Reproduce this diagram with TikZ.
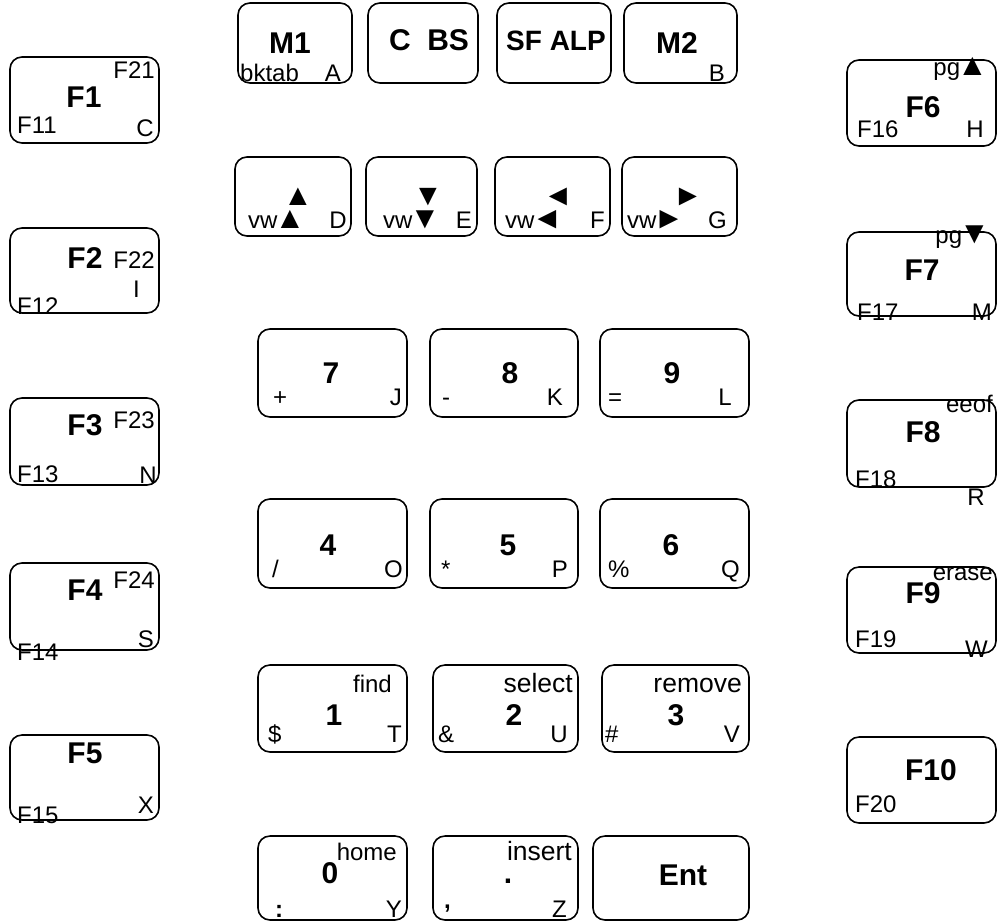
\documentclass[tikz,border=0pt]{standalone}
\usepackage{fontspec}
\setmainfont{Liberation Sans}
\newcommand\stri[1]{\hspace{-3pt}{\fontsize{31}{31}\selectfont #1}}
\begin{document}
\begin{tikzpicture}[x=1pt,y=-1pt,
  keyshape/.style={draw, rounded corners=12pt, line width=1.6pt, inner sep=0pt},
  mainlbl/.style={font=\fontsize{30}{30}\selectfont\bfseries, inner sep=0pt, anchor=base},
  smallbw/.style={font=\fontsize{24}{24}\selectfont, inner sep=0pt, anchor=base west},
  smallbe/.style={font=\fontsize{24}{24}\selectfont, inner sep=0pt, anchor=base east},
  trilbl/.style={text height=17pt, text depth=0pt},
  largebe/.style={font=\fontsize{26.5}{26.5}\selectfont, inner sep=0pt, anchor=base east},
  bigtri/.style={font=\fontsize{30}{30}\selectfont, inner sep=0pt, anchor=base, text depth=0pt, text height=22pt}]
\useasboundingbox (0,0) rectangle (1000,921);
\newcommand\keyb[5]{\node[keyshape, minimum width=#4pt, minimum height=#5pt] (#1) at (#2,#3) {};}
% top row
\keyb{kM1}{295}{43}{114}{80}
\keyb{kCBS}{423}{43}{110}{80}
\keyb{kSF}{554}{43}{114}{80}
\keyb{kM2}{680.5}{43}{113}{80}
\node[mainlbl] (tM1) at (290,53) {M1};
\node[smallbw] (tM1a) at (240,81) {bktab};
\node[smallbe] (tM1b) at (341,81) {A};
\node[mainlbl] (tCBS) at (429,50) {C\ \ BS};
\node[mainlbl, font=\fontsize{28}{28}\selectfont\bfseries] (tSF) at (556,50) {SF ALP};
\node[mainlbl] (tM2) at (677,53) {M2};
\node[smallbe] (tM2b) at (725,81) {B};
% arrow row
\keyb{kD}{293}{196.5}{116}{79}
\keyb{kE}{421.5}{196.5}{111}{79}
\keyb{kF}{552.5}{196.5}{115}{79}
\keyb{kG}{679.5}{196.5}{115}{79}
\node[bigtri] (tDt) at (298,205) {▲};
\node[smallbw, trilbl] (tDs) at (248,228) {vw\stri{▲}};
\node[smallbe] (tDe) at (347,228) {D};
\node[bigtri] (tEt) at (428,205) {▼};
\node[smallbw, trilbl] (tEs) at (383,228) {vw\stri{▼}};
\node[smallbe] (tEe) at (472,228) {E};
\node[bigtri] (tFt) at (558,205) {◄};
\node[smallbw, trilbl] (tFs) at (505,228) {vw\stri{◄}};
\node[smallbe] (tFe) at (605,228) {F};
\node[bigtri] (tGt) at (688,205) {►};
\node[smallbw, trilbl] (tGs) at (627,228) {vw\stri{►}};
\node[smallbe] (tGe) at (727,228) {G};
% numpad
\keyb{k7}{332.5}{373}{149}{88}
\keyb{k8}{504}{373}{148}{88}
\keyb{k9}{674.5}{373}{149}{88}
\keyb{k4}{332.5}{543.5}{149}{89}
\keyb{k5}{504}{543.5}{148}{89}
\keyb{k6}{674.5}{543.5}{149}{89}
\keyb{k1}{332.5}{708.5}{149}{87}
\keyb{k2}{505.5}{708.5}{145}{87}
\keyb{k3}{675.5}{708.5}{147}{87}
\keyb{k0}{332.5}{878}{149}{84}
\keyb{kdot}{505.5}{878}{145}{84}
\keyb{kEnt}{671}{878}{156}{84}
\node[mainlbl] (t7) at (331,383) {7};
\node[smallbw] (t7a) at (273,405) {+};
\node[smallbe] (t7b) at (402,405) {J};
\node[mainlbl] (t8) at (510,383) {8};
\node[smallbw] (t8a) at (442,405) {-};
\node[smallbe] (t8b) at (563,405) {K};
\node[mainlbl] (t9) at (672,383) {9};
\node[smallbw] (t9a) at (608,405) {=};
\node[smallbe] (t9b) at (732,405) {L};
\node[mainlbl] (t4) at (328,555) {4};
\node[smallbw] (t4a) at (272,577) {/};
\node[smallbe] (t4b) at (403,577) {O};
\node[mainlbl] (t5) at (508,555) {5};
\node[smallbw] (t5a) at (441,577) {*};
\node[smallbe] (t5b) at (568,577) {P};
\node[mainlbl] (t6) at (671,555) {6};
\node[smallbw] (t6a) at (608,577) {\%};
\node[smallbe] (t6b) at (740,577) {Q};
\node[mainlbl] (t1) at (334,725) {1};
\node[smallbe] (t1u) at (392,692) {find};
\node[smallbw] (t1a) at (268,742) {\$};
\node[smallbe] (t1b) at (402,742) {T};
\node[mainlbl] (t2) at (514,725) {2};
\node[largebe] (t2u) at (573,692) {select};
\node[smallbw] (t2a) at (438,742) {\&};
\node[smallbe] (t2b) at (568,742) {U};
\node[mainlbl] (t3) at (676,725) {3};
\node[largebe] (t3u) at (742,692) {remove};
\node[smallbw] (t3a) at (605,742) {\#};
\node[smallbe] (t3b) at (740,742) {V};
\node[mainlbl] (t0) at (330,883) {0};
\node[smallbe] (t0u) at (397,860) {home};
\node[smallbw, font=\fontsize{24}{24}\selectfont\bfseries] (t0a) at (275,917) {:};
\node[smallbe] (t0b) at (402,917) {Y};
\node[mainlbl] (tdot) at (508,883) {.};
\node[largebe] (tdotu) at (572,860) {insert};
\node[smallbw, font=\fontsize{24}{24}\selectfont\bfseries] (tdota) at (444,908) {,};
\node[smallbe] (tdotb) at (567,917) {Z};
\node[mainlbl] (tEnt) at (683,885) {Ent};
% left column
\keyb{kF1}{84.5}{100}{149}{86}
\keyb{kF2}{84.5}{270.5}{149}{85}
\keyb{kF3}{84.5}{441.5}{149}{87}
\keyb{kF4}{84.5}{606.5}{149}{87}
\keyb{kF5}{84.5}{777.5}{149}{85}
\node[mainlbl] (tF1) at (84,107) {F1};
\node[smallbe] (tF21) at (155,78) {F21};
\node[smallbw] (tF11) at (17,133) {F11};
\node[smallbe] (tC) at (154,136) {C};
\node[mainlbl] (tF2) at (85,268) {F2};
\node[smallbe] (tF22) at (155,268) {F22};
\node[smallbe] (tI) at (140,297) {I};
\node[smallbw] (tF12) at (17,314) {F12};
\node[mainlbl] (tF3) at (85,435) {F3};
\node[smallbe] (tF23) at (155,428) {F23};
\node[smallbw] (tF13) at (17,482) {F13};
\node[smallbe] (tN) at (157,483) {N};
\node[mainlbl] (tF4) at (85,600) {F4};
\node[smallbe] (tF24) at (155,588) {F24};
\node[smallbw] (tF14) at (17,660) {F14};
\node[smallbe] (tS) at (154,647) {S};
\node[mainlbl] (tF5) at (85,763) {F5};
\node[smallbe] (tX) at (154,813) {X};
\node[smallbw] (tF15) at (17,823) {F15};
% right column
\keyb{kF6}{921.5}{103}{149}{86}
\keyb{kF7}{921.5}{274}{149}{84}
\keyb{kF8}{921.5}{443.5}{149}{87}
\keyb{kF9}{921.5}{610}{149}{86}
\keyb{kF10}{921.5}{780}{149}{86}
\node[mainlbl] (tF6) at (923,117) {F6};
\node[smallbe, trilbl] (tpgu) at (988,75) {pg\stri{▲}};
\node[smallbw] (tF16) at (857,137) {F16};
\node[smallbe] (tH) at (984,137) {H};
\node[mainlbl] (tF7) at (922,280) {F7};
\node[smallbe, trilbl] (tpgd) at (990,243) {pg\stri{▼}};
\node[smallbw] (tF17) at (857,320) {F17};
\node[smallbe] (tM) at (992,320) {M};
\node[mainlbl] (tF8) at (923,442) {F8};
\node[smallbe] (teeof) at (993,412) {eeof};
\node[smallbw] (tF18) at (855,487) {F18};
\node[smallbe] (tR) at (985,505) {R};
\node[mainlbl] (tF9) at (923,603) {F9};
\node[smallbe] (terase) at (993,580) {erase};
\node[smallbw] (tF19) at (855,647) {F19};
\node[smallbe] (tW) at (988,657) {W};
\node[mainlbl] (tF10) at (931,780) {F10};
\node[smallbw] (tF20) at (855,812) {F20};
\end{tikzpicture}
\end{document}
